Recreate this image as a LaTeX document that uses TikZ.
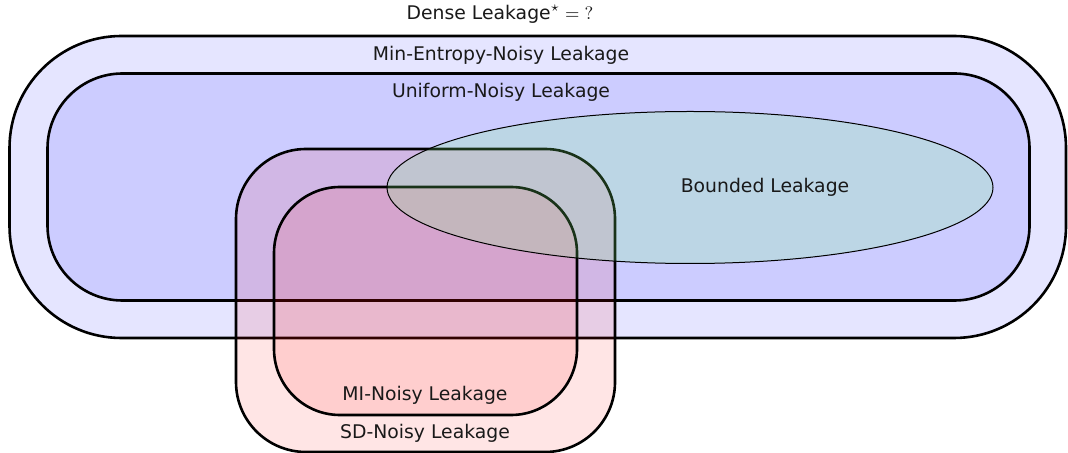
\documentclass[tikz,border=0pt]{standalone}
\usepackage{fontspec}
\setmainfont{DejaVu Sans}
\begin{document}
\begin{tikzpicture}[x=0.5pt,y=-0.5pt,
  region/.style={draw=black, line width=1.3pt},
  setlabel/.style={font=\fontsize{9.4}{11}\selectfont, inner sep=0pt, text=black!90},
  redset/.style={region, fill=red, fill opacity=0.1}
]
\useasboundingbox (0,0) rectangle (1068,453);

% nested noisy-leakage classes
\draw[region, fill=blue!10, rounded corners=56pt] (9.5,36) rectangle (1066,338);
\draw[region, fill=blue!20, rounded corners=37.5pt] (47.5,73.5) rectangle (1029.5,300.5);

% statistical-distance and mutual-information classes
\draw[redset, rounded corners=35pt] (236,149) rectangle (615,452);
\draw[redset, rounded corners=33pt] (274,187) rectangle (577,415);

% bounded leakage
\draw[line width=0.5pt, fill=green!50, fill opacity=0.2] (690,187.5) ellipse [x radius=303, y radius=76];

% labels
\node[setlabel] (dense) at (500,14) {Dense Leakage$^\star = {?}$};
\node[setlabel] (minent) at (501,55) {Min-Entropy-Noisy Leakage};
\node[setlabel] (unif) at (501,92) {Uniform-Noisy Leakage};
\node[setlabel] (bounded) at (765,187) {Bounded Leakage};
\node[setlabel] (mi) at (425,395) {MI-Noisy Leakage};
\node[setlabel] (sd) at (425,433) {SD-Noisy Leakage};
\end{tikzpicture}
\end{document}
